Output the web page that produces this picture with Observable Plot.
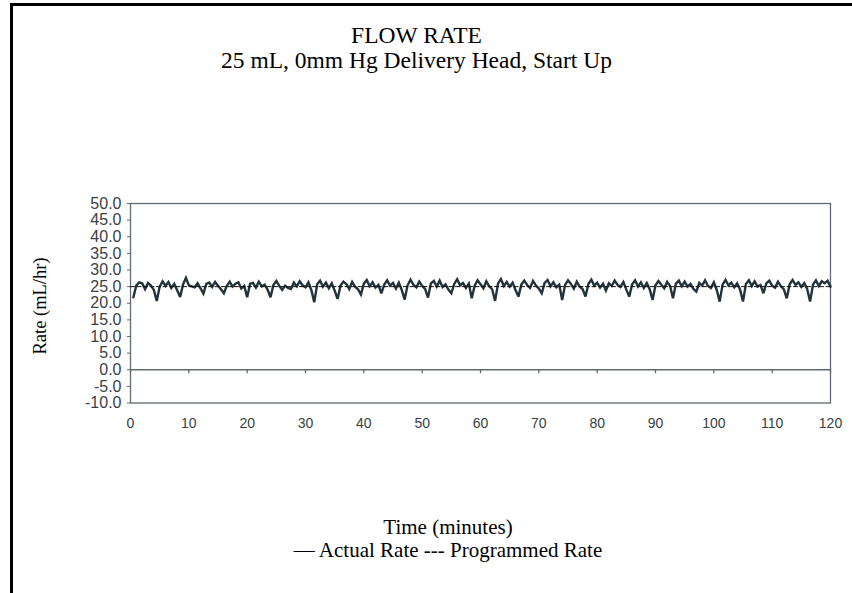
<!DOCTYPE html>
<html>
<head>
<meta charset="utf-8">
<script src="https://cdn.jsdelivr.net/npm/d3@7"></script>
<script src="https://cdn.jsdelivr.net/npm/@observablehq/plot@0.6"></script>
<style>
  html, body { margin: 0; padding: 0; background: #fff; }
  #wrap { position: relative; width: 852px; height: 593px; overflow: hidden; background: #fff; }
  #border { position: absolute; left: 10px; top: 3px; width: 842px; height: 590px; border-top: 3px solid #000; border-left: 3px solid #000; box-sizing: border-box; }
  .serif { position: absolute; font-family: "Liberation Serif", "Times New Roman", serif; color: #000; white-space: nowrap; }
  #title { left: 0; width: 833px; top: 21px; text-align: center; font-size: 23.5px; line-height: 28px; }
  #subtitle { left: 0; width: 833px; top: 46px; text-align: center; font-size: 23.5px; line-height: 28px; }
  #ylabel { left: 40px; top: 306px; font-size: 18.5px; transform: translate(-50%, -50%) rotate(-90deg); }
  #xlabel { left: 48px; width: 800px; top: 515px; text-align: center; font-size: 21px; line-height: 24px; }
  #legend { left: 48px; width: 800px; top: 538px; text-align: center; font-size: 21px; line-height: 24px; }
  #chart { position: absolute; left: 0; top: 180px; }
</style>
</head>
<body>
<div id="wrap">
  <div id="border"></div>
  <div id="title" class="serif">FLOW RATE</div>
  <div id="subtitle" class="serif">25 mL, 0mm Hg Delivery Head, Start Up</div>
  <div id="ylabel" class="serif">Rate (mL/hr)</div>
  <div id="chart"></div>
  <div id="xlabel" class="serif">Time (minutes)</div>
  <div id="legend" class="serif">— Actual Rate --- Programmed Rate</div>
</div>
<script>
// Sampling interval of the actual-rate readings (minutes)
const sampleInterval = 0.5;

// Actual rate (mL/hr), one reading every 0.5 min from t = 0.5 to 120
const actualRate = [
  21.8, 25.4, 26.3, 26.0, 24.2, 26.1, 25.3, 24.0,
  20.7, 25.0, 26.6, 25.2, 26.4, 24.6, 25.8, 23.9,
  21.9, 25.6, 27.6, 25.4, 25.1, 24.8, 26.0, 24.5,
  22.9, 25.8, 26.2, 24.9, 26.4, 25.3, 24.2,
  23.0, 25.2, 26.5, 25.0, 25.9, 26.3, 24.4, 25.2,
  21.8, 25.9, 26.1, 24.7, 26.5, 25.1, 25.6, 24.1,
  21.8, 25.5, 26.7, 25.2, 24.0, 25.3, 24.6,
  24.3, 26.2, 25.1, 26.6, 25.4, 24.8, 26.3, 24.0,
  20.3, 25.7, 26.8, 25.0, 26.2, 24.5, 26.0, 23.8,
  21.3, 25.3, 26.5, 25.8, 24.3, 26.4, 25.0, 24.2,
  22.6, 25.9, 27.0, 25.1, 26.3, 24.7, 25.5,
  23.0, 25.6, 26.9, 25.3, 26.1, 24.4, 26.2, 24.0,
  21.1, 25.4, 27.1, 25.6, 24.8, 26.5, 25.2, 24.3,
  21.7, 26.0, 26.7, 25.0, 26.8, 24.9, 25.7, 24.1,
  23.0, 25.8, 27.2, 25.4, 26.1, 24.6, 25.9,
  21.5, 25.3, 26.9, 25.7, 24.5, 26.6, 25.1, 24.2,
  20.7, 25.9, 27.3, 25.2, 26.4, 25.0, 26.2, 24.0,
  22.0, 25.6, 26.8, 25.5, 24.6, 26.7, 25.3, 24.4,
  23.0, 26.1, 27.0, 25.1, 26.3, 24.8, 25.6,
  21.0, 25.5, 26.9, 25.8, 24.4, 26.5, 25.0, 24.3,
  22.0, 25.8, 27.1, 25.3, 26.2, 24.7, 25.9,
  23.8, 26.0, 25.2, 26.8, 25.5, 24.9, 26.4, 24.1,
  22.0, 25.7, 26.9, 25.0, 26.3, 24.6, 26.1, 24.2,
  21.0, 25.4, 26.7, 25.6, 24.5, 26.4, 25.2,
  21.5, 25.9, 26.8, 25.1, 26.5, 25.0, 25.8, 24.3,
  23.5, 26.1, 25.3, 26.9, 25.2, 24.6, 26.3, 24.0,
  20.5, 25.6, 27.0, 25.4, 26.2, 24.8, 26.0, 24.1,
  20.5, 25.8, 26.9, 25.2, 26.6, 25.0, 25.5,
  23.0, 26.0, 26.8, 25.3, 24.7, 26.5, 25.1, 24.2,
  21.5, 25.7, 27.0, 25.5, 26.3, 24.9, 26.1, 24.3,
  20.5, 25.6, 26.9, 25.2, 26.6, 26.0, 26.8, 25.0
];

// Programmed rate (mL/hr)
const programmedTime = [0, 120];
const programmedRate = [25, 25];

// Axis ticks
const xTicks = [0, 10, 20, 30, 40, 50, 60, 70, 80, 90, 100, 110, 120];
const yTicks = [-10, -5, 0, 5, 10, 15, 20, 25, 30, 35, 40, 45, 50];

const actual = actualRate.map((v, i) => ({time: (i + 1) * sampleInterval, rate: v}));
const programmed = programmedTime.map((t, i) => ({time: t, rate: programmedRate[i]}));

const axisColor = "#5f6a71";
const textColor = "#3a3f44";

const chart = Plot.plot({
  width: 852,
  height: 262,
  marginLeft: 130,
  marginRight: 22,
  marginTop: 23,
  marginBottom: 39.5,
  style: {fontFamily: "'Liberation Sans', Arial, sans-serif", fontSize: "14px", color: textColor, background: "transparent"},
  x: {domain: [0, 120], ticks: xTicks},
  y: {domain: [-10, 50], ticks: yTicks},
  marks: [
    Plot.frame({stroke: axisColor, strokeWidth: 1.3}),
    Plot.ruleY([0], {stroke: axisColor, strokeWidth: 1.3}),
    Plot.ruleX(xTicks, {x: d => d, y1: 0, y2: -1.2, stroke: axisColor, strokeWidth: 1.3}),
    Plot.axisY(yTicks, {tickSize: 3, tickPadding: 6, stroke: axisColor, fill: textColor, fontSize: 16, tickFormat: d => d.toFixed(1), label: null}),
    Plot.axisX(xTicks, {tickSize: 0, tickPadding: 15, fill: textColor, fontSize: 14, tickFormat: d => String(d), label: null}),
    Plot.line(actual, {x: "time", y: "rate", stroke: "#22333a", strokeWidth: 2.4, strokeLinejoin: "miter", strokeMiterlimit: 3}),
    Plot.line(programmed, {x: "time", y: "rate", stroke: "#111", strokeWidth: 1, strokeDasharray: "4,2.5"})
  ]
});
document.getElementById("chart").appendChild(chart);
</script>
</body>
</html>
